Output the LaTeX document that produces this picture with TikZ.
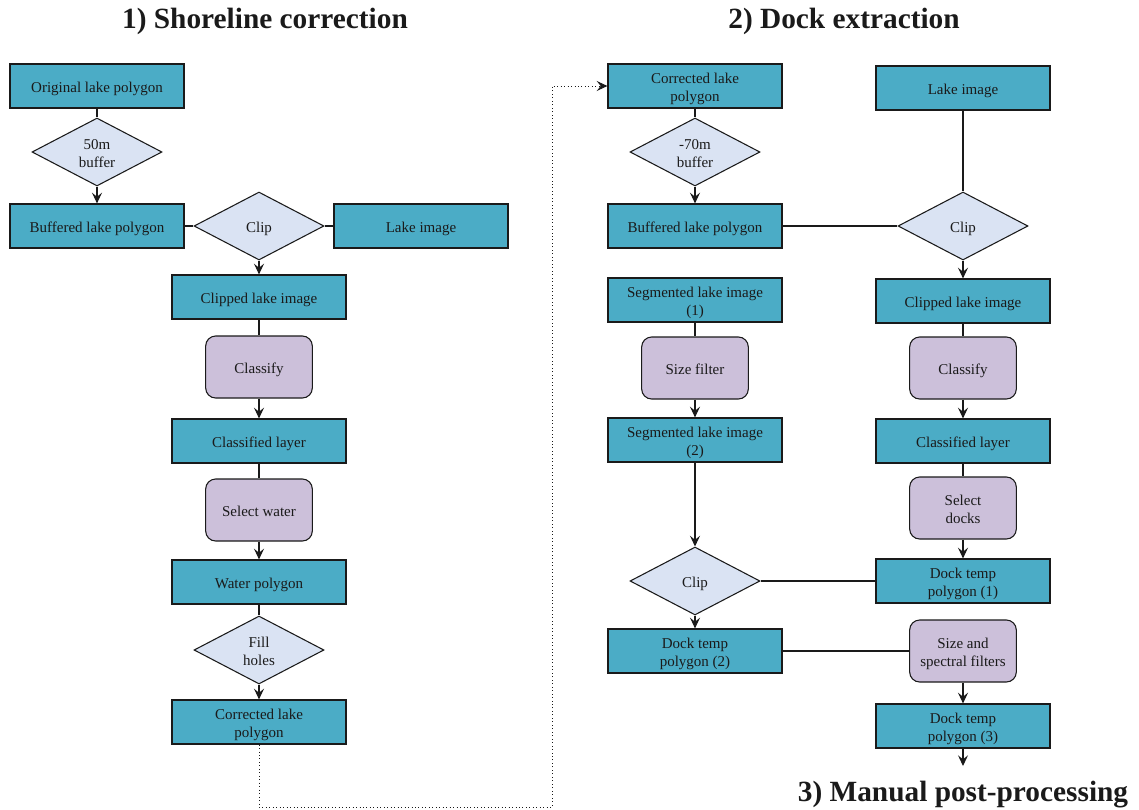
\documentclass[tikz,border=0pt]{standalone}
\usepackage{fontspec}
\setmainfont{Liberation Serif}
\usetikzlibrary{shapes.geometric,arrows.meta}
\definecolor{boxteal}{HTML}{4BACC6}
\definecolor{diafill}{HTML}{DAE3F3}
\definecolor{procfill}{HTML}{CCC0DA}
\definecolor{ink}{HTML}{1A1A1A}
\newcommand{\lbl}[1]{\raisebox{-2pt}[\height][\depth]{\begin{tabular}{@{}c@{}}#1\end{tabular}}}
\tikzset{
  every node/.style={font=\fontsize{11.25}{13.5}\selectfont, text=ink},
  databox/.style={rectangle, draw=ink, line width=0.9pt, fill=boxteal, minimum width=130.5pt, minimum height=33pt, inner sep=1pt},
  decision/.style={diamond, draw=ink, line width=0.8pt, fill=diafill, minimum width=97.5pt, minimum height=51pt, inner sep=0pt, aspect=2},
  process/.style={rectangle, rounded corners=7.5pt, draw=ink, line width=0.8pt, fill=procfill, minimum width=80pt, minimum height=46.5pt, inner sep=1pt},
  title/.style={font=\fontsize{22}{26}\selectfont\bfseries},
  link/.style={draw=ink, line width=0.8pt},
  flow/.style={link, -{Stealth[length=8pt,width=7.5pt,inset=3pt]}},
  backlink/.style={draw=ink, line width=0.6pt, dotted, -{Stealth[length=8pt,width=7.5pt,inset=3pt]}}
}
\begin{document}
\begin{tikzpicture}[x=0.75pt,y=-0.75pt]
\useasboundingbox (0,0) rectangle (1139,810);
% titles
\node[title] (t1) at (265,21) {1) Shoreline correction};
\node[title] (t2) at (844,21) {2) Dock extraction};
\node[title] (t3) at (963,795) {3) Manual post-processing};
% left part
\node[databox] (orig) at (97,86) {\lbl{Original lake polygon}};
\node[decision] (buf50) at (97,152) {\lbl{50m\\buffer}};
\node[databox] (bufL) at (97,226) {\lbl{Buffered lake polygon}};
\node[decision] (clipL) at (259,226) {\lbl{Clip}};
\node[databox] (lakeL) at (421,226) {\lbl{Lake image}};
\node[databox] (clippedL) at (259,297) {\lbl{Clipped lake image}};
\node[process] (classL) at (259,367) {\lbl{Classify}};
\node[databox] (classedL) at (259,441) {\lbl{Classified layer}};
\node[process] (selwater) at (259,510) {\lbl{Select water}};
\node[databox] (water) at (259,582) {\lbl{Water polygon}};
\node[decision] (fill) at (259,650) {\lbl{Fill\\holes}};
\node[databox] (corrL) at (259,722) {\lbl{Corrected lake\\polygon}};
% right part
\node[databox] (corrR) at (695,86) {\lbl{Corrected lake\\polygon}};
\node[databox] (lakeR) at (963,88) {\lbl{Lake image}};
\node[decision] (buf70) at (695,152) {\lbl{-70m\\buffer}};
\node[databox] (bufR) at (695,226) {\lbl{Buffered lake polygon}};
\node[decision] (clipR) at (963,226) {\lbl{Clip}};
\node[databox] (seg1) at (695,300) {\lbl{Segmented lake image\\(1)}};
\node[databox] (clippedR) at (963,301) {\lbl{Clipped lake image}};
\node[process] (sizef) at (695,368) {\lbl{Size filter}};
\node[process] (classR) at (963,368) {\lbl{Classify}};
\node[databox] (seg2) at (695,440) {\lbl{Segmented lake image\\(2)}};
\node[databox] (classedR) at (963,441) {\lbl{Classified layer}};
\node[process] (seldocks) at (963,508) {\lbl{Select\\docks}};
\node[decision] (clipB) at (695,581) {\lbl{Clip}};
\node[databox] (dock1) at (963,581) {\lbl{Dock temp\\polygon (1)}};
\node[databox] (dock2) at (695,651) {\lbl{Dock temp\\polygon (2)}};
\node[process] (specf) at (963,651) {\lbl{Size and\\spectral filters}};
\node[databox] (dock3) at (963,726) {\lbl{Dock temp\\polygon (3)}};
\coordinate (outend) at (963,766);
\coordinate (dcorner) at (552,807);
% left connectors
\draw[link] (orig) -- (buf50);
\draw[flow] (buf50) -- (bufL);
\draw[link] (bufL) -- (clipL);
\draw[link] (lakeL) -- (clipL);
\draw[flow] (clipL) -- (clippedL);
\draw[link] (clippedL) -- (classL);
\draw[flow] (classL) -- (classedL);
\draw[link] (classedL) -- (selwater);
\draw[flow] (selwater) -- (water);
\draw[link] (water) -- (fill);
\draw[flow] (fill) -- (corrL);
% link between parts
\draw[backlink] (corrL) |- (dcorner) |- (corrR);
% right connectors
\draw[link] (corrR) -- (buf70);
\draw[flow] (buf70) -- (bufR);
\draw[link] (bufR) -- (clipR);
\draw[link] (lakeR) -- (clipR);
\draw[flow] (clipR) -- (clippedR);
\draw[link] (clippedR) -- (classR);
\draw[flow] (classR) -- (classedR);
\draw[link] (classedR) -- (seldocks);
\draw[flow] (seldocks) -- (dock1);
\draw[link] (dock1) -- (clipB);
\draw[link] (seg1) -- (sizef);
\draw[flow] (sizef) -- (seg2);
\draw[flow] (seg2) -- (clipB);
\draw[flow] (clipB) -- (dock2);
\draw[link] (dock2) -- (specf);
\draw[flow] (specf) -- (dock3);
\draw[flow] (dock3) -- (outend);
\end{tikzpicture}
\end{document}
